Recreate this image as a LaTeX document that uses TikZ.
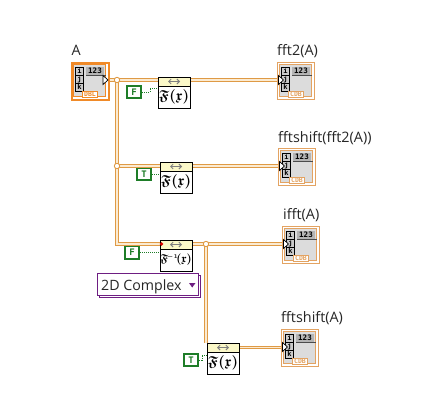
\documentclass[tikz,border=0pt]{standalone}
\usepackage{amsmath,amssymb}
\usepackage{fontspec}
\setmainfont{Open Sans}
\newfontfamily\tinyfont{DejaVu Sans Mono}
\usetikzlibrary{arrows.meta}
\definecolor{wireor}{HTML}{DF9A45}
\definecolor{wirecore}{HTML}{FBEBD2}
\definecolor{dblor}{HTML}{F08A28}
\definecolor{cdbor}{HTML}{E3A362}
\definecolor{panelgr}{HTML}{DCDCDC}
\definecolor{hdrgr}{HTML}{B4B4B4}
\definecolor{hdryel}{HTML}{FBF8C8}
\definecolor{boolgr}{HTML}{1E7D28}
\definecolor{enumpur}{HTML}{6E1E82}
\tikzset{
  wire/.style={draw=wireor,line width=3.6pt,postaction={draw=wirecore,line width=1.2pt}},
  dotwire/.style={draw=boolgr,line width=0.8pt,dash pattern=on 1pt off 1pt},
  junction/.style={circle,draw=wireor,fill=white,line width=0.9pt,minimum size=5.4pt,inner sep=0pt},
  termbox/.style={rectangle,draw,fill=white,minimum width=37pt,minimum height=37pt,inner sep=0pt,anchor=north west},
  fftbox/.style={rectangle,draw=black,line width=0.9pt,fill=white,minimum width=32pt,minimum height=31pt,inner sep=0pt,anchor=north west},
  boolbox/.style={rectangle,draw=boolgr,line width=1.6pt,fill=white,minimum width=14.5pt,minimum height=12.5pt,inner sep=0pt,text=boolgr,font=\tinyfont\bfseries\fontsize{9}{10}\selectfont},
  lbl/.style={inner sep=0pt,anchor=base west,font=\fontsize{14.4}{16}\selectfont,text=black!85},
  idx/.style={rectangle,draw=black,line width=0.8pt,fill=hdrgr!70!white,minimum width=8pt,minimum height=8pt,inner sep=0pt,font=\tinyfont\bfseries\fontsize{7}{8}\selectfont},
  enumbox/.style={rectangle,draw=enumpur,line width=0.9pt,fill=white,minimum width=101pt,minimum height=22pt,inner sep=0pt}
}
% #1 name, #2 x, #3 y, #4 colour, #5 border width, #6 type text
\newcommand{\termcommon}[6]{%
  \node[termbox,draw=#4,line width=#5] (#1) at (#2,#3) {};
  \begin{scope}[shift={(#2,#3)}]
    \path[draw=#4,line width=0.9pt,fill=panelgr] (3,3) rectangle (35,35);
    \fill[hdrgr] (15.5,5.5) rectangle (33.5,13);
    \draw[black!70,line width=0.6pt] (15.5,13.3) -- (35,13.3);
    \node[inner sep=0pt,font=\tinyfont\bfseries\fontsize{7.5}{8}\selectfont] (#1num) at (24.5,9.2) {123};
    \node[idx] (#1i) at (9,9.5) {i};
    \node[idx] (#1j) at (9,17.5) {j};
    \node[idx] (#1k) at (9,25.5) {k};
    \node[rectangle,draw=#4,line width=0.9pt,fill=white,text=#4,minimum width=15pt,minimum height=6.5pt,inner sep=0pt,font=\tinyfont\bfseries\fontsize{6.5}{6}\selectfont] (#1t) at (19.5,33) {#6};
  \end{scope}}
% #1 name, #2 x, #3 y, #4 scale, #5 math
\newcommand{\fftnode}[5]{%
  \node[fftbox] (#1) at (#2,#3) {};
  \begin{scope}[shift={(#2,#3)}]
    \path[fill=hdryel,draw=black,line width=0.7pt] (0,0) rectangle (32,9);
    \draw[{Straight Barb[length=2.5pt,width=5pt]}-{Straight Barb[length=2.5pt,width=5pt]},black!50,line width=0.9pt] (10,4.5) -- (22,4.5);
    \node[inner sep=0pt,scale=#4] (#1f) at (16,20) {$\boldsymbol{#5(\mathfrak{x})}$};
  \end{scope}}
\begin{document}
\begin{tikzpicture}[x=1pt,y=-1pt]
\useasboundingbox (0,0) rectangle (421,415);
\fill[white] (0,0) rectangle (421,415);
% nodes
\termcommon{A}{70.5}{61.5}{dblor}{2pt}{DBL}
\termcommon{R1}{276.5}{61.5}{cdbor}{0.9pt}{CDB}
\termcommon{R2}{277.5}{147.5}{cdbor}{0.9pt}{CDB}
\termcommon{R3}{281.5}{225.5}{cdbor}{0.9pt}{CDB}
\termcommon{R4}{280.5}{328.5}{cdbor}{0.9pt}{CDB}
\fftnode{F1}{158}{77}{1.45}{\mathfrak{F}}
\fftnode{F2}{160}{162}{1.45}{\mathfrak{F}}
\fftnode{F3}{160}{240}{1.15}{\mathfrak{F}^{\!\scriptscriptstyle -1}\!}
\fftnode{F4}{207}{343}{1.45}{\mathfrak{F}}
\node[boolbox] (c1) at (134,92) {F};
\node[boolbox] (c2) at (144,174) {T};
\node[boolbox] (c3) at (132,252.5) {F};
\node[boolbox] (c4) at (191,360) {T};
\node[enumbox] (eb) at (149.5,286.5) {};
\node[enumbox] (en) at (147.5,284.5) {};
\node[inner sep=0pt,anchor=base west,font=\fontsize{14.2}{16}\selectfont,text=black!85] (ent) at (101,290.5) {2D Complex};
\fill[enumpur] (189,283) -- (195.5,283) -- (192.2,287.5) -- cycle;
\node[lbl] (tA) at (71.5,56) {A};
\node[lbl] (t1) at (277,56) {fft2(A)};
\node[lbl] (t2) at (278,142) {fftshift(fft2(A))};
\node[lbl] (t3) at (283,219.5) {ifft(A)};
\node[lbl] (t4) at (281,322) {fftshift(A)};
% connector anchors
\coordinate (j1) at (117,80);
\coordinate (j2) at (117,166);
\coordinate (j3) at (117,244);
\coordinate (j4) at (206,244);
% wires
\draw[wire] (A.east |- j1) -- (F1.west |- j1);
\draw[wire] (F1.east |- j1) -- (R1.west |- j1);
\draw[wire] (j1) -- (j3) -- (F3.west |- j3);
\draw[wire] (j2) -- (F2.west |- j2);
\draw[wire] (F2.east |- j2) -- (R2.west |- j2);
\draw[wire] (F3.east |- j3) -- (R3.west |- j3);
\draw[wire] (j4) -- (j4 |- F4.north);
\draw[wire] (F4.east |- R4.west) -- (R4.west);
\node[junction] (J1) at (j1) {};
\node[junction] (J2) at (j2) {};
\node[junction] (J4) at (j4) {};
\fill[red!85!black] (161.5,244) circle (1.8pt);
% dotted wires
\draw[dotwire] (c1.east) -- (150,92) -- (150,88) -- (F1.west |- 0,88);
\draw[dotwire] (c2.east) -- (c2.east -| F2.west);
\draw[dotwire] (c3.east) -- (c3.east -| F3.west);
\draw[dotwire] (c4.east) -- (202,360) -- (202,355) -- (F4.west |- 0,355);
% triangles
\path[fill=white,draw=black,line width=0.7pt] (103,75.5) -- (108,80) -- (103,84.5) -- cycle;
\path[fill=white,draw=black,line width=0.7pt] (278.5,75.5) -- (283.5,80) -- (278.5,84.5) -- cycle;
\path[fill=white,draw=black,line width=0.7pt] (279.5,161.5) -- (284.5,166) -- (279.5,170.5) -- cycle;
\path[fill=white,draw=black,line width=0.7pt] (283.5,239.5) -- (288.5,244) -- (283.5,248.5) -- cycle;
\path[fill=white,draw=black,line width=0.7pt] (282.5,342.5) -- (287.5,347) -- (282.5,351.5) -- cycle;
\end{tikzpicture}
\end{document}
